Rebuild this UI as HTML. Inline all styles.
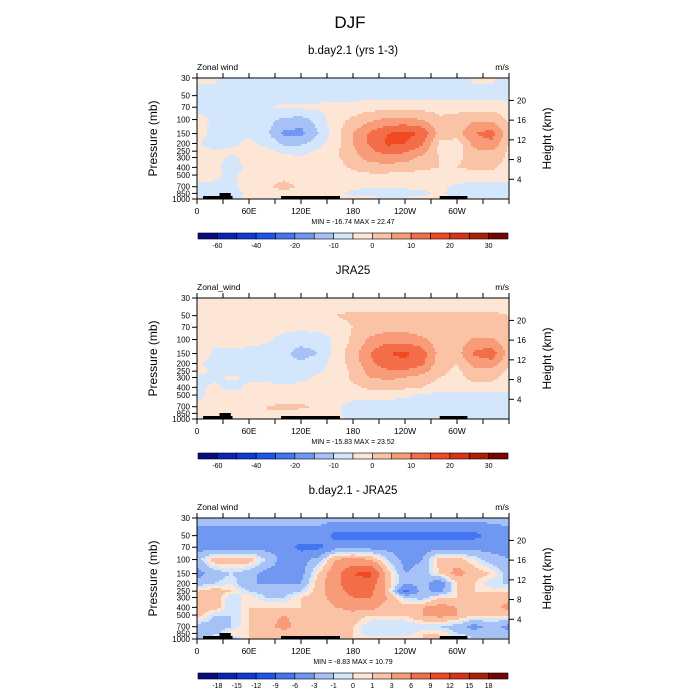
<!DOCTYPE html>
<html><head><meta charset="utf-8">
<style>
body{margin:0;background:#fff;}
svg{display:block;font-family:"Liberation Sans",sans-serif;}
</style></head>
<body>
<svg id="fig" width="700" height="700" viewBox="0 0 700 700" xmlns="http://www.w3.org/2000/svg">
<text x="350" y="28" font-size="17" text-anchor="middle">DJF</text>
</svg>
<script>
// ---- data ----
const lons = [0,20,40,60,80,100,120,140,160,180,200,220,240,260,280,300,320,340,360];
const levels = [30,50,70,100,150,200,250,300,400,500,700,850,1000];
const titles = ["b.day2.1 (yrs 1-3)","JRA25","b.day2.1 - JRA25"];
const leftTitles = ["Zonal wind","Zonal_wind","Zonal wind"];
const minMax = ["MIN = -16.74  MAX =  22.47","MIN = -15.83  MAX =  23.52","MIN =  -8.83  MAX =  10.79"];
const thresholdsAbs = [-60,-50,-40,-30,-20,-10,-5,0,5,10,15,20,25,30,35];
const thresholdsDiff = [-18,-15,-12,-9,-6,-3,-1,0,1,3,6,9,12,15,18];
const cbLabelsAbs = ["","-60","","-40","","-20","","-10","","0","","10","","20","","30",""];
const cbLabelsDiff = ["","-18","-15","-12","-9","-6","-3","-1","0","1","3","6","9","12","15","18",""];
const xTickLabels = ["0","60E","120E","180","120W","60W"];
const pTickLabels = [30,50,70,100,150,200,250,300,400,500,700,850,1000];
const hTickLabels = [4,8,12,16,20];
const palette = ["#0a0a82","#0a24b4","#0a3bd6","#1a55ef","#4176f0","#7097f2","#a6c1f6","#d3e6fb","#fee6d6","#fbc3a6","#f79b79","#f26d48","#ef4a22","#d63412","#ae1f08","#780404"];

const field1 = [
[ 1, 1,-2,-2,-2,-2,-2,-2,-2,-2,-2,-2,-2,-2,-2,-2, 1, 1,-2],
[-2,-2,-2,-2,-2,-2,-2,-2,-2,-2,-2,-2,-2,-2,-2,-2,-2,-2,-2],
[-2,-2,-2,-2,-1, 1, 1, 1, 2, 2, 3, 3, 3, 3, 3, 3, 3, 3, 2],
[ 2,-1,-1,-1,-3,-6,-7,-3, 3, 6, 9,11,11,10, 6, 7, 9, 9, 4],
[ 3,-2,-1,-1,-4,-11,-12,-5,3,10,16,20,22,19, 8, 8,15,17, 7],
[ 1,-4,-1, 1,-1,-6,-6,-2, 3,10,16,21,20,16, 4, 2,12,14, 5],
[ 2, 1, 1, 1, 1,-1,-2, 1, 4, 9,14,17,16,12, 4, 3, 9,10, 4],
[ 2, 2,-1, 2, 2, 1, 1, 2, 4, 8,12,13,12, 9, 5, 4, 7, 8, 4],
[ 2, 1,-2, 1, 1, 1, 1, 2, 3, 6, 8, 8, 8, 6, 5, 5, 6, 6, 3],
[ 2, 1,-1, 2, 3, 3, 2, 2, 2, 3, 4, 4, 3, 3, 3, 3, 3, 3, 2],
[-1,-1,-1, 2, 4, 7, 4, 2, 1, 1, 1, 1, 1, 1, 1,-1,-2,-2,-1],
[-2,-2,-2, 1, 3, 3, 2, 1, 1,-1,-3,-3,-2,-1, 1,-2,-3,-2,-2],
[ 1, 1,-1, 1, 2, 2, 1, 1, 1, 2, 2, 1, 1, 1, 2, 1, 1,-1, 1]];
const field2 = [
[ 2, 2, 2, 2, 2, 2, 2, 2, 2, 2, 2, 2, 2, 2, 2, 2, 2, 2, 2],
[ 2, 2, 2, 2, 2, 2, 2, 3, 5, 6, 6, 6, 6, 6, 6, 6, 6, 6, 5],
[ 2, 2, 2, 2, 2, 2, 1, 2, 3, 5, 7, 8, 8, 7, 6, 6, 6, 6, 5],
[ 4, 1, 2, 2, 1,-2,-3,-3, 1, 6,11,13,13,11, 7, 7,11,11, 6],
[ 4,-1,-1,-2,-2,-4,-7,-5, 2, 8,15,20,21,18, 8, 8,16,18, 8],
[ 1,-2,-2,-2,-2,-3,-4,-2, 2, 7,14,18,19,16, 7, 5,12,13, 6],
[ 2,-1,-2,-2,-2,-2,-2,-1, 2, 6,12,14,14,12, 6, 4, 8, 8, 4],
[-1,-1, 1,-1,-1,-2,-1, 1, 2, 6,10,11,10, 8, 5, 4, 6, 6, 3],
[-1, 1,-2, 1, 1, 1, 1, 1, 2, 4, 6, 7, 6, 5, 3, 3, 4, 4, 3],
[-2, 2, 2, 2, 2, 2, 2, 2, 2, 2, 3, 2, 1,-1,-2,-2,-2,-2,-3],
[ 2, 2, 1, 3, 5, 6, 6, 4, 1,-2,-3,-3,-3,-3,-3,-3,-3,-2,-3],
[ 2, 2, 2, 3, 5, 4, 3, 2, 1,-2,-3,-3,-3,-3,-2,-2,-3,-3,-3],
[ 5, 2, 2, 1, 2, 2, 2, 1, 1,-1,-1,-1,-1,-1, 1, 1,-1,-1,-1]];
const field3 = [
[-2,-2,-2,-2,-2,-2,-2,-2,-2,-2,-2,-2,-2,-2,-2,-2,-2,-2,-2],
[-4,-4,-4,-4,-4,-4,-4,-4,-7,-7,-7,-7,-7,-7,-7,-7,-7,-5,-4],
[-4,-4,-4,-4,-4,-4,-7,-7,-4,-4,-4,-4,-4,-4,-4,-4,-4,-4,-4],
[-2, 2, 2, 2,-1,-4,-4,-2, 3, 4, 3,-1,-4,-3, 2, 2, 0,-2,-3],
[-4,-2,-1,-2,-4,-4,-4, 1, 5, 9,10, 2,-3,-2, 1, 4, 2, 1,-2],
[-2,-1, 0,-3,-3,-3,-3, 2, 5, 8, 8, 2,-3,-2,-5, 1, 1,-1,-1],
[ 1, 2, 1,-1,-2,-2,-1, 2, 5, 7, 7, 2,-7,-2,-4, 1, 1, 1, 1],
[ 2, 2,-1, 1,-1,-1, 1, 2, 4, 6, 6, 3,-1,-2, 1, 1, 1, 1, 2],
[ 2, 2,-1, 1, 1, 1, 1, 2, 3, 4, 4, 2, 2, 3, 4, 3, 2, 2, 4],
[ 2,-1,-1, 1, 2, 3, 2, 1, 1, 2, 1, 1, 1, 3, 4, 3, 1, 1, 1],
[-2,-2,-1, 1, 2, 4, 2, 1, 1, 1,-1,-1,-1,-1,-1,-2,-4,-2,-4],
[-2,-2, 1, 1, 1, 2, 1, 1, 1, 1,-1,-1,-1, 1, 1,-1,-2,-1,-2],
[-2, 2,-2, 1, 1, 1, 1, 1, 1, 1, 1, 1, 1, 1, 1, 1,-1,-1,-1]];
const fields = [field1, field2, field3];
const thresholdSets = [thresholdsAbs, thresholdsAbs, thresholdsDiff];
const cbLabelSets = [cbLabelsAbs, cbLabelsAbs, cbLabelsDiff];

// ---- layout ----
const NS = "http://www.w3.org/2000/svg";
const svg = document.getElementById('fig');
const X0 = 197, X1 = 509, PH = 121;
const panelTops = [78, 298, 518];
const pTop = 30, pBot = 1000;
function xScale(lon){ return X0 + lon/360*(X1-X0); }
function yScale(top,p){ return top + Math.log(p/pTop)/Math.log(pBot/pTop)*PH; }
function mk(tag, attrs, parent){
  const e = document.createElementNS(NS, tag);
  for (const k in attrs) e.setAttribute(k, attrs[k]);
  (parent||svg).appendChild(e);
  return e;
}
function txt(x,y,s,size,anchor,parent){
  const t = mk('text',{x:x,y:y,'font-size':size,'text-anchor':anchor||'middle'},parent);
  t.textContent = s; return t;
}
function sample(field, lon, p){
  let i = Math.min(lons.length-2, Math.max(0, Math.floor(lon/20)));
  const fx = (lon - lons[i])/(lons[i+1]-lons[i]);
  const lp = Math.log(p);
  let j = 0;
  while (j < levels.length-2 && Math.log(levels[j+1]) < lp) j++;
  const fy = Math.min(1, Math.max(0, (lp - Math.log(levels[j]))/(Math.log(levels[j+1]) - Math.log(levels[j]))));
  const a = field[j][i]*(1-fx)+field[j][i+1]*fx;
  const b = field[j+1][i]*(1-fx)+field[j+1][i+1]*fx;
  return a*(1-fy)+b*fy;
}
function colorIdx(v, th){ let k=0; while(k<th.length && v>=th[k]) k++; return k; }

panelTops.forEach((top, pi) => {
  const g = mk('g',{});
  
  
  const field = fields[pi], th = thresholdSets[pi];
  const fillG = mk('g',{}, g);
  
  
  const cell = 2, nx = Math.round((X1-X0)/cell), ny = Math.round(PH/cell)+1;
  for (let iy=0; iy<ny; iy++){
    const y = top + iy*cell;
    const yc = Math.min(top+PH, y + cell/2);
    const p = pTop*Math.pow(pBot/pTop, (yc-top)/PH);
    let runStart = 0, runC = -1;
    for (let ix=0; ix<=nx; ix++){
      let c = -2;
      if (ix<nx){
        const lon = ((ix+0.5)*cell)/(X1-X0)*360;
        c = colorIdx(sample(field, lon, p), th);
      }
      if (c !== runC){
        if (runC >= 0){
          const w = Math.min(X1, X0 + ix*cell) - (X0+runStart*cell);
          const h = Math.min(cell, top+PH-y);
          if (h>0) mk('rect',{x:X0+runStart*cell, y:y, width:w+0.3, height:h+0.3, fill:palette[runC]}, fillG);
        }
        runStart = ix; runC = c;
      }
    }
  }
  const topo = mk('g',{fill:'#000'}, g);
  
  
  mk('rect',{x:xScale(7), y:top+PH-3, width:xScale(41)-xScale(7), height:3}, topo);
  mk('rect',{x:xScale(26), y:top+PH-6, width:xScale(39)-xScale(26), height:6}, topo);
  mk('rect',{x:xScale(97), y:top+PH-3, width:xScale(165)-xScale(97), height:3}, topo);
  mk('rect',{x:xScale(280), y:top+PH-3, width:xScale(312)-xScale(280), height:3}, topo);
  const fr = mk('rect',{x:X0, y:top, width:X1-X0, height:PH, fill:'none', stroke:'#000', 'stroke-width':1}, g);
  
  
  const axG = mk('g',{stroke:'#000','stroke-width':1}, g);
  
  
  for (let lon=0; lon<=360; lon+=30){
    const x = xScale(lon), len = 5;
    mk('line',{x1:x,y1:top+PH,x2:x,y2:top+PH+len}, axG);
    mk('line',{x1:x,y1:top,x2:x,y2:top-len}, axG);
  }
  xTickLabels.forEach((s,k)=>{
    const t = txt(xScale(k*60), top+PH+15, s, 8.5, 'middle', g);
    
    
  });
  pTickLabels.forEach(p=>{
    const y = yScale(top,p);
    mk('line',{x1:X0-5,y1:y,x2:X0,y2:y}, axG);
    const t = txt(X0-7, y+3, String(p), 8, 'end', g);
    
    
  });
  hTickLabels.forEach(h=>{
    const p = 1000*Math.exp(-h/7);
    const y = yScale(top,p);
    mk('line',{x1:X1,y1:y,x2:X1+5,y2:y}, axG);
    const t = txt(X1+8, y+3, String(h), 8, 'start', g);
    
    
  });
  const yt = txt(0,0,'Pressure (mb)',12,'middle',g);
  yt.setAttribute('transform','translate(157,'+(top+PH/2)+') rotate(-90)');
  
  
  const ht = txt(0,0,'Height (km)',12,'middle',g);
  ht.setAttribute('transform','translate(551,'+(top+PH/2)+') rotate(-90)');
  
  
  const ti = txt(353, top-24, titles[pi], 11.5, 'middle', g);
  
  
  const lt = txt(X0, top-8, leftTitles[pi], 8.5, 'start', g);
  
  
  const ut = txt(X1, top-8, 'm/s', 8.5, 'end', g);
  
  
  const mm = txt(353, top+PH+25, minMax[pi], 7, 'middle', g);
  
  
  const cb = mk('g',{}, g);
  
  
  const cbx0 = 198, cbx1 = 508, cby = top+155, cbh = 6, bw = (cbx1-cbx0)/16;
  palette.forEach((c,k)=>{
    const r = mk('rect',{x:cbx0+k*bw, y:cby, width:bw, height:cbh, fill:c, stroke:'#000','stroke-width':0.6}, cb);
    
    
  });
  cbLabelSets[pi].forEach((s,k)=>{
    if (!s) return;
    const t = txt(cbx0+k*bw, cby+cbh+9, s, 7, 'middle', cb);
    
    
  });
});
</script>
</body></html>
